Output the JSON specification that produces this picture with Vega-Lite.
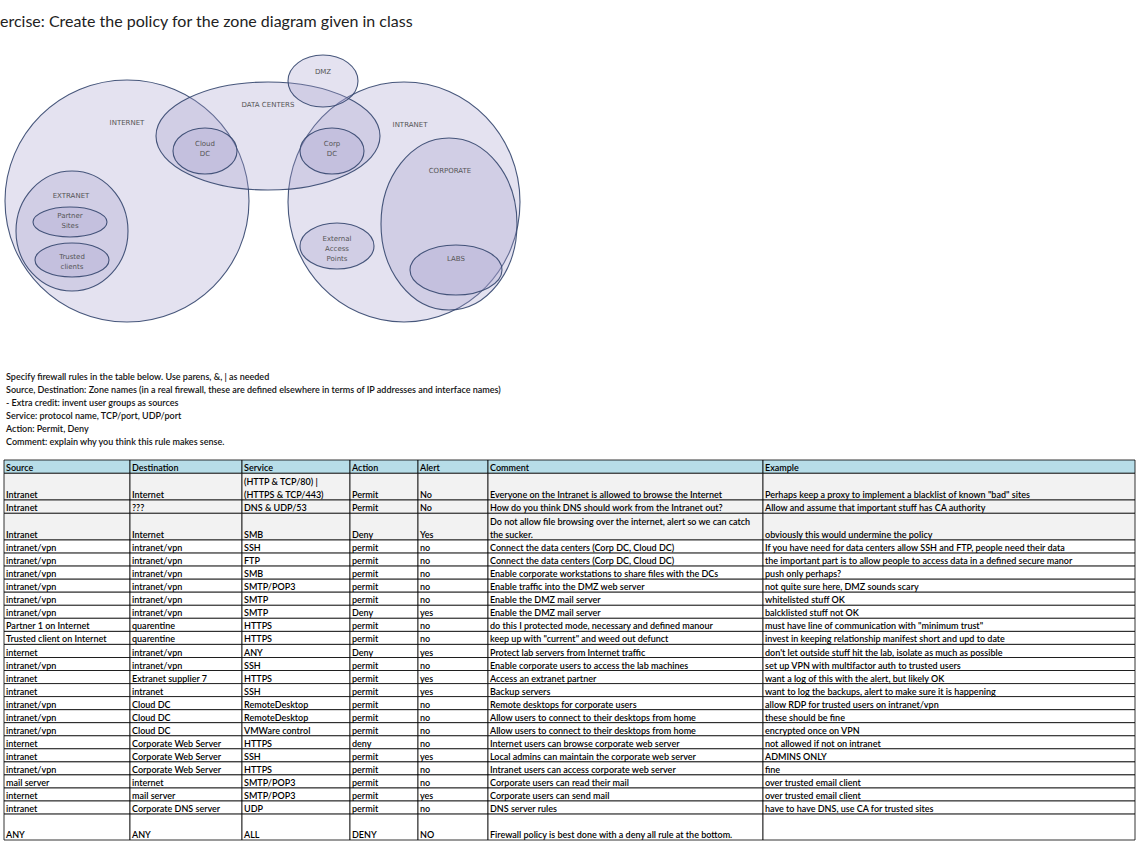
{
  "$schema": "https://vega.github.io/schema/vega-lite/v6.json",
  "width": 1140,
  "height": 844,
  "padding": 0,
  "autosize": "none",
  "background": "white",
  "config": {"view": {"stroke": null}, "text": {"font": "Lato"}, "scale": {"continuousPadding": 0}},
  "datasets": {
    "zones": [
      {"name": "INTERNET", "cx": 127, "cy": 201, "rx": 122, "ry": 121},
      {"name": "INTRANET", "cx": 404, "cy": 202, "rx": 116, "ry": 120},
      {"name": "DATA CENTERS", "cx": 268, "cy": 136, "rx": 112, "ry": 54},
      {"name": "DMZ", "cx": 323, "cy": 81, "rx": 35, "ry": 26},
      {"name": "CORPORATE", "cx": 449, "cy": 224, "rx": 68, "ry": 86},
      {"name": "LABS", "cx": 456, "cy": 270, "rx": 46, "ry": 25},
      {"name": "Cloud DC", "cx": 205, "cy": 151, "rx": 32, "ry": 23},
      {"name": "Corp DC", "cx": 332, "cy": 151, "rx": 32, "ry": 23},
      {"name": "EXTRANET", "cx": 72, "cy": 231, "rx": 56, "ry": 60},
      {"name": "Partner Sites", "cx": 70, "cy": 222, "rx": 37, "ry": 15},
      {"name": "Trusted clients", "cx": 72, "cy": 260, "rx": 37, "ry": 17},
      {"name": "External Access Points", "cx": 337, "cy": 246, "rx": 37, "ry": 23}
    ],
    "labels": [
      {"t": "INTERNET", "x": 127, "y": 123},
      {"t": "DATA CENTERS", "x": 268, "y": 105},
      {"t": "DMZ", "x": 323, "y": 72},
      {"t": "INTRANET", "x": 410, "y": 125},
      {"t": "CORPORATE", "x": 450, "y": 171},
      {"t": "EXTRANET", "x": 71, "y": 196},
      {"t": "Partner\nSites", "x": 70, "y": 216},
      {"t": "Trusted\nclients", "x": 72, "y": 257},
      {"t": "Cloud\nDC", "x": 205, "y": 144},
      {"t": "Corp\nDC", "x": 332, "y": 144},
      {"t": "External\nAccess\nPoints", "x": 337, "y": 239},
      {"t": "LABS", "x": 456, "y": 259}
    ],
    "notes": [
      {"t": "Specify firewall rules in the table below.  Use parens, &, | as needed", "y": 380},
      {"t": "Source, Destination: Zone names (in a real firewall, these are defined elsewhere in terms of IP addresses and interface names)", "y": 393},
      {"t": "- Extra credit: invent user groups as sources", "y": 406},
      {"t": "Service: protocol name, TCP/port, UDP/port", "y": 419},
      {"t": "Action: Permit, Deny", "y": 432},
      {"t": "Comment: explain why you think this rule makes sense.", "y": 445}
    ],
    "cols": [
      {"name": "Source", "x0": 4, "x1": 130},
      {"name": "Destination", "x0": 130, "x1": 242},
      {"name": "Service", "x0": 242, "x1": 350},
      {"name": "Action", "x0": 350, "x1": 418},
      {"name": "Alert", "x0": 418, "x1": 488},
      {"name": "Comment", "x0": 488, "x1": 763},
      {"name": "Example", "x0": 763, "x1": 1135}
    ],
    "rows": [
      {"r": 0, "y0": 460, "y1": 473.3, "Source": "Source", "Destination": "Destination", "Service": "Service", "Action": "Action", "Alert": "Alert", "Comment": "Comment", "Example": "Example"},
      {"r": 1, "y0": 473.3, "y1": 500, "Source": "Intranet", "Destination": "Internet", "Service": "(HTTP & TCP/80) |\n(HTTPS & TCP/443)", "Action": "Permit", "Alert": "No", "Comment": "Everyone on the Intranet is allowed to browse the Internet", "Example": "Perhaps keep a proxy to implement a blacklist of known \"bad\" sites"},
      {"r": 2, "y0": 500, "y1": 513.3, "Source": "Intranet", "Destination": "???", "Service": "DNS & UDP/53", "Action": "Permit", "Alert": "No", "Comment": "How do you think DNS should work from the Intranet out?", "Example": "Allow and assume that important stuff has CA authority"},
      {"r": 3, "y0": 513.3, "y1": 540, "Source": "Intranet", "Destination": "Internet", "Service": "SMB", "Action": "Deny", "Alert": "Yes", "Comment": "Do not allow file browsing over the internet, alert so we can catch\nthe sucker.", "Example": "obviously this would undermine the policy"},
      {"r": 4, "y0": 540, "y1": 553.1, "Source": "intranet/vpn", "Destination": "intranet/vpn", "Service": "SSH", "Action": "permit", "Alert": "no", "Comment": "Connect the data centers (Corp DC, Cloud DC)", "Example": "If you have need for data centers allow SSH and FTP, people need their data"},
      {"r": 5, "y0": 553.1, "y1": 566.1, "Source": "intranet/vpn", "Destination": "intranet/vpn", "Service": "FTP", "Action": "permit", "Alert": "no", "Comment": "Connect the data centers (Corp DC, Cloud DC)", "Example": "the important part is to allow people to access data in a defined secure manor"},
      {"r": 6, "y0": 566.1, "y1": 579.2, "Source": "intranet/vpn", "Destination": "intranet/vpn", "Service": "SMB", "Action": "permit", "Alert": "no", "Comment": "Enable corporate workstations to share files with the DCs", "Example": "push only perhaps?"},
      {"r": 7, "y0": 579.2, "y1": 592.2, "Source": "intranet/vpn", "Destination": "intranet/vpn", "Service": "SMTP/POP3", "Action": "permit", "Alert": "no", "Comment": "Enable traffic into the DMZ web server", "Example": "not quite sure here, DMZ sounds scary"},
      {"r": 8, "y0": 592.2, "y1": 605.3, "Source": "intranet/vpn", "Destination": "intranet/vpn", "Service": "SMTP", "Action": "permit", "Alert": "no", "Comment": "Enable the DMZ mail server", "Example": "whitelisted stuff OK"},
      {"r": 9, "y0": 605.3, "y1": 618.3, "Source": "intranet/vpn", "Destination": "intranet/vpn", "Service": "SMTP", "Action": "Deny", "Alert": "yes", "Comment": "Enable the DMZ mail server", "Example": "balcklisted stuff not OK"},
      {"r": 10, "y0": 618.3, "y1": 631.4, "Source": "Partner 1 on Internet", "Destination": "quarentine", "Service": "HTTPS", "Action": "permit", "Alert": "no", "Comment": "do this I protected mode, necessary and defined manour", "Example": "must have line of communication with \"minimum trust\""},
      {"r": 11, "y0": 631.4, "y1": 644.4, "Source": "Trusted client on Internet", "Destination": "quarentine", "Service": "HTTPS", "Action": "permit", "Alert": "no", "Comment": "keep up with \"current\" and weed out defunct", "Example": "invest in keeping relationship manifest short and upd to date"},
      {"r": 12, "y0": 644.4, "y1": 657.5, "Source": "internet", "Destination": "intranet/vpn", "Service": "ANY", "Action": "Deny", "Alert": "yes", "Comment": "Protect lab servers from Internet traffic", "Example": "don't let outside stuff hit the lab, isolate as much as possible"},
      {"r": 13, "y0": 657.5, "y1": 670.5, "Source": "intranet/vpn", "Destination": "intranet/vpn", "Service": "SSH", "Action": "permit", "Alert": "no", "Comment": "Enable corporate users to access the lab machines", "Example": "set up VPN with multifactor auth to trusted users"},
      {"r": 14, "y0": 670.5, "y1": 683.6, "Source": "intranet", "Destination": "Extranet supplier 7", "Service": "HTTPS", "Action": "permit", "Alert": "yes", "Comment": "Access an extranet partner", "Example": "want a log of this with the alert, but likely OK"},
      {"r": 15, "y0": 683.6, "y1": 696.6, "Source": "intranet", "Destination": "intranet", "Service": "SSH", "Action": "permit", "Alert": "yes", "Comment": "Backup servers", "Example": "want to log the backups, alert to make sure it is happening"},
      {"r": 16, "y0": 696.6, "y1": 709.7, "Source": "intranet/vpn", "Destination": "Cloud DC", "Service": "RemoteDesktop", "Action": "permit", "Alert": "no", "Comment": "Remote desktops for corporate users", "Example": "allow RDP for trusted users on intranet/vpn"},
      {"r": 17, "y0": 709.7, "y1": 722.7, "Source": "intranet/vpn", "Destination": "Cloud DC", "Service": "RemoteDesktop", "Action": "permit", "Alert": "no", "Comment": "Allow users to connect to their desktops from home", "Example": "these should be fine"},
      {"r": 18, "y0": 722.7, "y1": 735.8, "Source": "intranet/vpn", "Destination": "Cloud DC", "Service": "VMWare control", "Action": "permit", "Alert": "no", "Comment": "Allow users to connect to their desktops from home", "Example": "encrypted once on VPN"},
      {"r": 19, "y0": 735.8, "y1": 748.8, "Source": "internet", "Destination": "Corporate Web Server", "Service": "HTTPS", "Action": "deny", "Alert": "no", "Comment": "Internet users can browse corporate web server", "Example": "not allowed if not on intranet"},
      {"r": 20, "y0": 748.8, "y1": 761.9, "Source": "intranet", "Destination": "Corporate Web Server", "Service": "SSH", "Action": "permit", "Alert": "yes", "Comment": "Local admins can maintain the corporate web server", "Example": "ADMINS ONLY"},
      {"r": 21, "y0": 761.9, "y1": 774.9, "Source": "intranet/vpn", "Destination": "Corporate Web Server", "Service": "HTTPS", "Action": "permit", "Alert": "no", "Comment": "Intranet users can access corporate web server", "Example": "fine"},
      {"r": 22, "y0": 774.9, "y1": 788, "Source": "mail server", "Destination": "internet", "Service": "SMTP/POP3", "Action": "permit", "Alert": "no", "Comment": "Corporate users can read their mail", "Example": "over trusted email client"},
      {"r": 23, "y0": 788, "y1": 801, "Source": "internet", "Destination": "mail server", "Service": "SMTP/POP3", "Action": "permit", "Alert": "yes", "Comment": "Corporate users can send mail", "Example": "over trusted email client"},
      {"r": 24, "y0": 801, "y1": 814.1, "Source": "intranet", "Destination": "Corporate DNS server", "Service": "UDP", "Action": "permit", "Alert": " no", "Comment": "DNS server rules", "Example": "have to have DNS, use CA for trusted sites"},
      {"r": 25, "y0": 814.1, "y1": 840, "Source": "ANY", "Destination": "ANY", "Service": "ALL", "Action": "DENY", "Alert": "NO", "Comment": "Firewall policy is best done with a deny all rule at the bottom.", "Example": ""}
    ]
  },
  "layer": [
    {
      "data": {"name": "zones"},
      "transform": [
        {"calculate": "'M-1,0A1,' + (datum.ry / datum.rx) + ' 0 1,0 1,0A1,' + (datum.ry / datum.rx) + ' 0 1,0 -1,0Z'", "as": "path"},
        {"calculate": "4 * datum.rx * datum.rx", "as": "sz"}
      ],
      "mark": {"type": "point", "filled": true, "fill": "#a59ecd", "fillOpacity": 0.3, "stroke": "#34466e", "strokeWidth": 1.1, "strokeOpacity": 0.9},
      "encoding": {
        "x": {"field": "cx", "type": "quantitative", "scale": {"domain": [0, 1140], "range": [0, 1140], "padding": 0, "nice": false, "zero": false}, "axis": null},
        "y": {"field": "cy", "type": "quantitative", "scale": {"domain": [0, 844], "range": [0, 844], "padding": 0, "nice": false, "zero": false}, "axis": null},
        "shape": {"field": "path", "type": "nominal", "scale": null},
        "size": {"field": "sz", "type": "quantitative", "scale": null}
      }
    },
    {
      "data": {"name": "labels"},
      "mark": {"type": "text", "font": "DejaVu Sans", "fontSize": 7, "color": "#555", "lineBreak": "\n", "lineHeight": 10, "align": "center", "baseline": "middle"},
      "encoding": {
        "x": {"field": "x", "type": "quantitative", "axis": null},
        "y": {"field": "y", "type": "quantitative", "axis": null},
        "text": {"field": "t"}
      }
    },
    {
      "data": {"values": [{"t": "ercise: Create the policy for the zone diagram given in class", "x": 0, "y": 22}]},
      "mark": {"type": "text", "fontSize": 16, "color": "#222", "align": "left", "baseline": "middle"},
      "encoding": {
        "x": {"field": "x", "type": "quantitative", "axis": null},
        "y": {"field": "y", "type": "quantitative", "axis": null},
        "text": {"field": "t"}
      }
    },
    {
      "data": {"name": "notes"},
      "mark": {"type": "text", "fontSize": 9, "fontWeight": 600, "color": "#111", "align": "left", "baseline": "alphabetic", "dx": 6},
      "encoding": {
        "x": {"datum": 0, "type": "quantitative", "axis": null},
        "y": {"field": "y", "type": "quantitative", "axis": null},
        "text": {"field": "t"}
      }
    },
    {
      "data": {"name": "rows"},
      "transform": [
        {"fold": ["Source", "Destination", "Service", "Action", "Alert", "Comment", "Example"], "as": ["key", "value"]},
        {"lookup": "key", "from": {"data": {"name": "cols"}, "key": "name", "fields": ["x0", "x1"]}},
        {"calculate": "datum.y1 - (indexof(datum.value, '\\n') >= 0 ? 13 : 0)", "as": "ty"}
      ],
      "layer": [
        {
          "mark": {"type": "rect", "stroke": "#000", "strokeWidth": 0.8},
          "encoding": {
            "x": {"field": "x0", "type": "quantitative", "axis": null},
            "x2": {"field": "x1"},
            "y": {"field": "y0", "type": "quantitative", "axis": null},
            "y2": {"field": "y1"},
            "fill": {"condition": [{"test": "datum.r == 0", "value": "#b7dde8"}, {"test": "datum.r <= 3", "value": "#f2f2f2"}], "value": "#ffffff"}
          }
        },
        {
          "mark": {"type": "text", "fontSize": 9, "fontWeight": 600, "color": "#000", "align": "left", "baseline": "bottom", "lineBreak": "\n", "lineHeight": 13, "dx": 2},
          "encoding": {
            "x": {"field": "x0", "type": "quantitative", "axis": null},
            "y": {"field": "ty", "type": "quantitative", "axis": null},
            "text": {"field": "value"}
          }
        }
      ]
    }
  ]
}
